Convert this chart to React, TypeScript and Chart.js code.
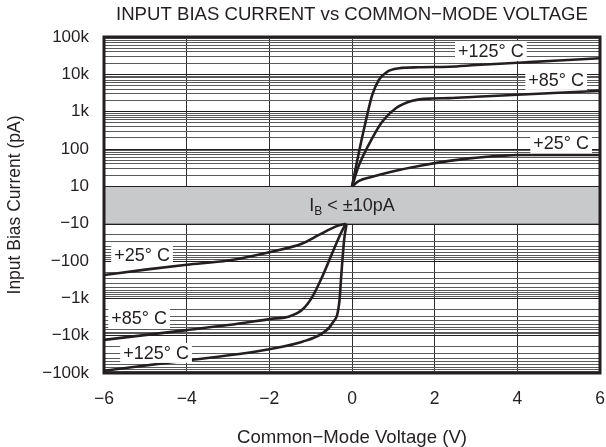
import React, { useEffect, useRef } from 'react';
import { Chart, registerables } from 'chart.js';

Chart.register(...registerables);

const chartTitle = 'INPUT BIAS CURRENT vs COMMON−MODE VOLTAGE';
const xAxisTitle = 'Common−Mode Voltage (V)';
const yAxisTitle = 'Input Bias Current (pA)';

const xMin = -6;
const xMax = 6;
const xStep = 2;

const yTickValues = [100000, 10000, 1000, 100, 10, -10, -100, -1000, -10000, -100000];
const yTickLabels = ['100k', '10k', '1k', '100', '10', '−10', '−100', '−1k', '−10k', '−100k'];
const minorMultiples = [2, 3, 4, 5, 6, 7, 8, 9];
const decades = [10, 100, 1000, 10000];

const bandHigh = 10;
const bandLow = -10;

// Positive branches (V, pA)
const v125Pos = [0, 0.17, 0.33, 0.49, 0.65, 0.85, 1.14, 1.62, 2.35, 3, 4, 5, 6];
const i125Pos = [10, 85, 537, 2800, 7100, 11700, 14500, 15500, 16000, 17700, 20400, 23500, 27000];

const v85Pos = [0, 0.17, 0.49, 0.73, 1.06, 1.46, 1.94, 2.35, 3, 4, 5, 6];
const i85Pos = [10, 37, 195, 537, 1230, 1950, 2250, 2300, 2500, 2850, 3200, 3600];

const v25Pos = [0, 0.17, 0.49, 0.98, 1.62, 2.35, 2.83, 3.63, 4, 5, 6];
const i25Pos = [10, 14, 18, 25, 35, 48, 56, 66, 69, 69, 69];

// Negative branches (V, pA)
const v25Neg = [-6, -5, -4, -3, -2, -1.2, -0.8, -0.4, -0.15];
const i25Neg = [-237, -170, -126, -97, -58, -34, -20, -12, -10];

const v85Neg = [-6, -4, -3, -2, -1.5, -1.2, -0.96, -0.72, -0.48, -0.27, -0.15];
const i85Neg = [-13000, -7100, -5200, -3600, -3000, -2000, -910, -263, -62, -18, -10];

const v125Neg = [-6, -4, -2.73, -2, -1.2, -0.72, -0.48, -0.31, -0.25, -0.19, -0.13];
const i125Neg = [-87000, -46000, -31000, -23000, -14500, -8700, -4700, -1350, -174, -27, -10];

// Curve labels: text, V, pA
const labelTexts = ['+125° C', '+85° C', '+25° C', '+25° C', '+85° C', '+125° C'];
const labelV = [3.36, 4.94, 5.06, -5.08, -5.15, -4.74];
const labelI = [42000, 7100, 145, -69, -3400, -29000];

const bandText = ['I', 'B', ' < ±10pA'];

const FONT = '"Liberation Sans", Arial, Helvetica, sans-serif';
const INK = '#231f20';

// symmetric log transform: ±10 -> ±0.5, each decade = 1 unit
const toAxis = (v: number) => Math.sign(v) * (Math.log10(Math.abs(v)) - 0.5);

const majorAxis = yTickValues.map(toAxis);
const minorAxis: number[] = [];
decades.forEach((d) => {
  minorMultiples.forEach((m) => {
    minorAxis.push(toAxis(d * m));
    minorAxis.push(toAxis(-d * m));
  });
});
const allYTicks = [...majorAxis, ...minorAxis].sort((a, b) => a - b);

const pts = (vs: number[], is: number[]) => vs.map((v, k) => ({ x: v, y: toAxis(is[k]) }));

const overlay = {
  id: 'overlay',
  beforeDatasetsDraw(chart: any) {
    const { ctx, chartArea } = chart;
    const y = chart.scales.y;
    const x = chart.scales.x;
    const top = y.getPixelForValue(toAxis(bandHigh));
    const bottom = y.getPixelForValue(toAxis(bandLow));
    ctx.save();
    ctx.fillStyle = '#c8c9cb';
    ctx.fillRect(chartArea.left, top, chartArea.right - chartArea.left, bottom - top);
    ctx.strokeStyle = INK;
    ctx.lineWidth = 1;
    ctx.beginPath();
    ctx.moveTo(chartArea.left, Math.round(top) + 0.5);
    ctx.lineTo(chartArea.right, Math.round(top) + 0.5);
    ctx.moveTo(chartArea.left, Math.round(bottom) + 0.5);
    ctx.lineTo(chartArea.right, Math.round(bottom) + 0.5);
    ctx.stroke();
    // band text
    const cy = (top + bottom) / 2;
    const big = `18px ${FONT}`;
    const small = `12px ${FONT}`;
    ctx.font = big;
    const w1 = ctx.measureText(bandText[0]).width;
    const w3 = ctx.measureText(bandText[2]).width;
    ctx.font = small;
    const w2 = ctx.measureText(bandText[1]).width;
    const total = w1 + w2 + w3;
    let cx = x.getPixelForValue(0) - total / 2;
    ctx.fillStyle = INK;
    ctx.textBaseline = 'alphabetic';
    ctx.textAlign = 'left';
    const base = cy + 6;
    ctx.font = big;
    ctx.fillText(bandText[0], cx, base);
    cx += w1;
    ctx.font = small;
    ctx.fillText(bandText[1], cx, base + 4);
    cx += w2;
    ctx.font = big;
    ctx.fillText(bandText[2], cx, base);
    ctx.restore();
  },
  afterDatasetsDraw(chart: any) {
    const { ctx, chartArea } = chart;
    const y = chart.scales.y;
    const x = chart.scales.x;
    ctx.save();
    ctx.font = `18px ${FONT}`;
    ctx.textAlign = 'center';
    ctx.textBaseline = 'middle';
    labelTexts.forEach((t, k) => {
      const px = x.getPixelForValue(labelV[k]);
      const py = y.getPixelForValue(toAxis(labelI[k]));
      const w = ctx.measureText(t).width;
      ctx.fillStyle = '#ffffff';
      ctx.fillRect(px - w / 2 - 3, py - 10, w + 6, 20);
      ctx.fillStyle = INK;
      ctx.fillText(t, px, py + 1);
    });
    ctx.strokeStyle = INK;
    ctx.lineWidth = 3;
    ctx.strokeRect(chartArea.left, chartArea.top, chartArea.right - chartArea.left, chartArea.bottom - chartArea.top);
    // chart title centred over the plot area
    ctx.font = `18.6px ${FONT}`;
    ctx.fillStyle = INK;
    ctx.textAlign = 'center';
    ctx.textBaseline = 'middle';
    ctx.fillText(chartTitle, (chartArea.left + chartArea.right) / 2, 15);
    ctx.restore();
  },
};

export default function App() {
  const ref = useRef<HTMLCanvasElement | null>(null);
  useEffect(() => {
    if (!ref.current) return;
    const lineStyle = {
      borderColor: INK,
      borderWidth: 2.6,
      pointRadius: 0,
      fill: false,
      cubicInterpolationMode: 'monotone' as const,
    };
    const chart = new Chart(ref.current, {
      type: 'line',
      data: {
        datasets: [
          { label: '+125 pos', data: pts(v125Pos, i125Pos), ...lineStyle },
          { label: '+85 pos', data: pts(v85Pos, i85Pos), ...lineStyle },
          { label: '+25 pos', data: pts(v25Pos, i25Pos), ...lineStyle },
          { label: '+25 neg', data: pts(v25Neg, i25Neg), ...lineStyle },
          { label: '+85 neg', data: pts(v85Neg, i85Neg), ...lineStyle },
          { label: '+125 neg', data: pts(v125Neg, i125Neg), ...lineStyle },
        ],
      },
      options: {
        responsive: false,
        animation: false,
        layout: { padding: { left: 0, right: 6, top: 37, bottom: 0 } },
        plugins: {
          legend: { display: false },
          tooltip: { enabled: false },
          title: { display: false },
        },
        scales: {
          x: {
            type: 'linear',
            min: xMin,
            max: xMax,
            afterFit: (s: any) => {
              s.height = 74;
              s.paddingLeft = 0;
              s.paddingRight = 0;
            },
            ticks: {
              stepSize: xStep,
              color: INK,
              padding: 16,
              font: { family: FONT, size: 17.5 },
              callback: (v: any) => String(v).replace('-', '−'),
            },
            grid: { color: '#2e2e2e', lineWidth: 1, drawTicks: false },
            border: { display: false },
            title: {
              display: true,
              text: xAxisTitle,
              color: INK,
              font: { family: FONT, size: 18.6 },
              padding: { top: 0, bottom: -2 },
            },
          },
          y: {
            type: 'linear',
            min: toAxis(yTickValues[yTickValues.length - 1]),
            max: toAxis(yTickValues[0]),
            afterFit: (s: any) => {
              s.width = 104;
              s.paddingTop = 0;
              s.paddingBottom = 0;
            },
            afterBuildTicks: (s: any) => { s.ticks = allYTicks.map((v) => ({ value: v })); },
            ticks: {
              autoSkip: false,
              color: INK,
              padding: 15,
              font: { family: FONT, size: 17 },
              callback: (v: any) => {
                const idx = majorAxis.findIndex((m) => Math.abs(m - v) < 1e-6);
                return idx >= 0 ? yTickLabels[idx] : '';
              },
            },
            grid: {
              drawTicks: false,
              lineWidth: 1,
              color: (c: any) => {
                const v = c.tick ? c.tick.value : 0;
                return majorAxis.some((m) => Math.abs(m - v) < 1e-6) ? INK : '#5a5a5a';
              },
            },
            border: { display: false },
            title: {
              display: true,
              text: yAxisTitle,
              color: INK,
              font: { family: FONT, size: 17.5 },
              padding: { top: 5, bottom: 0 },
            },
          },
        },
      },
      plugins: [overlay],
    });
    return () => chart.destroy();
  }, []);
  return (
    <div style={{ position: 'absolute', left: 0, top: 0, width: 606, height: 447, background: '#fff' }}>
      <canvas ref={ref} width={606} height={447} style={{ width: 606, height: 447, display: 'block' }} />
    </div>
  );
}
